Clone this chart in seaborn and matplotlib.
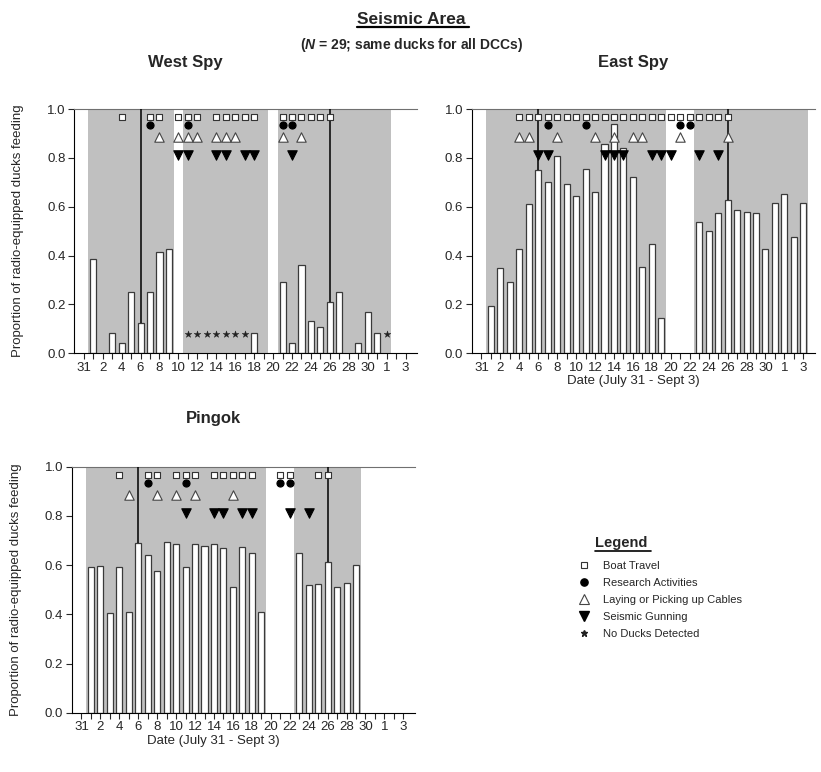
import numpy as np
import pandas as pd
import matplotlib
matplotlib.use('Agg')
import matplotlib.pyplot as plt
import seaborn as sns
from matplotlib.lines import Line2D
from matplotlib import font_manager

nan = np.nan

# Days from July 31 (index 0) to Sept 3 (index 34)
day_index = list(range(35))
tick_pos = [0, 2, 4, 6, 8, 10, 12, 14, 16, 18, 20, 22, 24, 26, 28, 30, 32, 34]
tick_text = ['31', '2', '4', '6', '8', '10', '12', '14', '16', '18', '20',
             '22', '24', '26', '28', '30', '1', '3']

# Proportion of radio-equipped ducks feeding (nan = no bar)
west_feed = [nan, 0.385, nan, 0.082, 0.041, 0.25, 0.126, 0.25, 0.416, 0.428,
             nan, nan, nan, nan, nan, nan, nan, nan, 0.082, nan,
             nan, 0.29, 0.041, 0.36, 0.131, 0.106, 0.209, 0.25, nan, 0.041,
             0.168, 0.082, nan, nan, nan]
east_feed = [nan, 0.192, 0.348, 0.291, 0.426, 0.61, 0.749, 0.703, 0.809, 0.692,
             0.645, 0.754, 0.662, 0.857, 0.939, 0.842, 0.723, 0.355, 0.446, 0.143,
             nan, nan, nan, 0.536, 0.5, 0.573, 0.629, 0.587, 0.577, 0.575,
             0.426, 0.614, 0.651, 0.475, 0.614]
pingok_feed = [nan, 0.593, 0.596, 0.404, 0.591, 0.411, 0.691, 0.64, 0.575, 0.692,
               0.687, 0.592, 0.686, 0.676, 0.684, 0.668, 0.509, 0.672, 0.648, 0.411,
               nan, nan, nan, 0.648, 0.519, 0.522, 0.614, 0.509, 0.526, 0.599,
               nan, nan, nan, nan, nan]

# disturbance events (day index)
west_boat = [4, 7, 8, 10, 11, 12, 14, 15, 16, 17, 18, 21, 22, 23, 24, 25, 26]
west_research = [7, 11, 21, 22]
west_cables = [8, 10, 11, 12, 14, 15, 16, 21, 23]
west_gunning = [10, 11, 14, 15, 17, 18, 22]
west_noducks = [11, 12, 13, 14, 15, 16, 17, 32]

east_boat = [4, 5, 6, 7, 8, 9, 10, 11, 12, 13, 14, 15, 16, 17, 18, 19, 20,
             21, 22, 23, 24, 25, 26]
east_research = [7, 11, 21, 22]
east_cables = [4, 5, 8, 12, 14, 16, 17, 21, 26]
east_gunning = [6, 7, 13, 14, 15, 18, 19, 20, 23, 25]

pingok_boat = [4, 7, 8, 10, 11, 12, 14, 15, 16, 17, 18, 21, 22, 25, 26]
pingok_research = [7, 11, 21, 22]
pingok_cables = [5, 8, 10, 12, 16]
pingok_gunning = [11, 14, 15, 17, 18, 22, 24]

# shaded periods (first day, last day)
west_periods = [(1, 9), (11, 19), (21, 32)]
east_periods = [(1, 19), (23, 34)]
pingok_periods = [(1, 19), (23, 29)]

line_days = [6, 26]

sns.set_style('ticks')
names = {f.name for f in font_manager.fontManager.ttflist}
narrow = 'Liberation Sans Narrow' if 'Liberation Sans Narrow' in names else 'Liberation Sans'
plt.rcParams['font.family'] = ['Liberation Sans', 'DejaVu Sans']
plt.rcParams['mathtext.fontset'] = 'custom'
plt.rcParams['mathtext.it'] = narrow + ':italic:bold'

fig = plt.figure(figsize=(8.21, 7.72), dpi=100)
W, H = 821.0, 772.0


def make_ax(left, top, right, bottom):
    return fig.add_axes([left / W, 1 - bottom / H, (right - left) / W, (bottom - top) / H])


def draw_panel(ax, feed, boat, research, cables, gunning, periods, noducks=()):
    for first, last in periods:
        ax.axvspan(first - 0.5, last + 0.5, color='#c0c0c0', lw=0, zorder=0)
    df = pd.DataFrame({'day': day_index, 'feed': feed}).dropna()
    sns.barplot(data=df, x='day', y='feed', native_scale=True, color='white',
                saturation=1, edgecolor='#3a3a3a', linewidth=0.9, width=0.64,
                errorbar=None, zorder=2, ax=ax)
    for d in line_days:
        ax.vlines(d, feed[d], 1.0, color='black', lw=1.1, zorder=3)
    rows = [(boat, 0.968, 's', 'white', '#333333', 15),
            (research, 0.934, 'o', 'black', 'black', 26),
            (cables, 0.886, '^', 'white', '#444444', 46),
            (gunning, 0.81, 'v', 'black', 'black', 46)]
    for days, level, m, fc, ec, s in rows:
        sns.scatterplot(x=days, y=[level] * len(days), marker=m, s=s, color=fc,
                        edgecolor=ec, linewidth=0.8, zorder=4, ax=ax)
    if len(noducks):
        ax.scatter(noducks, [0.08] * len(noducks), marker='*', s=26,
                   color='#222222', linewidths=0.3, zorder=4)
    ax.set_xlim(-1.03, 35.2)
    ax.set_ylim(0, 1.0)
    ax.set_xticks(tick_pos)
    ax.set_xticklabels(tick_text, fontsize=9.5)
    ax.set_xticks([p + 1 for p in tick_pos[:-1]], minor=True)
    ax.set_yticks([0, 0.2, 0.4, 0.6, 0.8, 1.0])
    ax.set_yticklabels(['0.0', '0.2', '0.4', '0.6', '0.8', '1.0'], fontsize=9.5)
    ax.tick_params(axis='both', which='both', direction='out', length=4, width=0.8, pad=2)
    ax.set_xlabel('')
    ax.set_ylabel('')
    ax.spines['right'].set_visible(False)
    ax.spines['top'].set_color('#707070')
    ax.spines['left'].set_color('black')
    ax.spines['bottom'].set_color('black')


ax_w = make_ax(74, 109, 417, 353.3)
draw_panel(ax_w, west_feed, west_boat, west_research, west_cables, west_gunning,
           west_periods, west_noducks)
ax_e = make_ax(471.7, 109, 814.7, 353.3)
draw_panel(ax_e, east_feed, east_boat, east_research, east_cables, east_gunning,
           east_periods)
ax_p = make_ax(71.7, 466.7, 414.7, 712.7)
draw_panel(ax_p, pingok_feed, pingok_boat, pingok_research, pingok_cables,
           pingok_gunning, pingok_periods)

for ax in (ax_w, ax_p):
    ax.set_ylabel('Proportion of radio-equipped ducks feeding', fontsize=9.5)
    ax.yaxis.set_label_coords(-50 / 343, 0.5)

fig.text(633 / W, 1 - 381 / H, 'Date (July 31 - Sept 3)', fontsize=9.5, ha='center', va='center')
fig.text(213 / W, 1 - 741 / H, 'Date (July 31 - Sept 3)', fontsize=9.5, ha='center', va='center')

# titles
t_main = fig.text(411 / W, 1 - 19 / H, 'Seismic Area', family=narrow, fontsize=12.5,
                  fontweight='bold', ha='center', va='center')
fig.text(411 / W, 1 - 45 / H, r'($\it{N}$ = 29; same ducks for all DCCs)', family=narrow,
         fontsize=10, fontweight='bold', ha='center', va='center')
fig.text(185 / W, 1 - 62 / H, 'West Spy', family=narrow, fontsize=12,
         fontweight='bold', ha='center', va='center')
fig.text(633 / W, 1 - 62 / H, 'East Spy', family=narrow, fontsize=12,
         fontweight='bold', ha='center', va='center')
fig.text(213 / W, 1 - 418 / H, 'Pingok', family=narrow, fontsize=12,
         fontweight='bold', ha='center', va='center')

# legend
t_leg = fig.text(621 / W, 1 - 543 / H, 'Legend', fontsize=10.5, fontweight='bold',
                 ha='center', va='center')
handles = [
    Line2D([], [], ls='none', marker='s', ms=4.2, mfc='white', mec='#333333', mew=0.8),
    Line2D([], [], ls='none', marker='o', ms=5.2, mfc='black', mec='black'),
    Line2D([], [], ls='none', marker='^', ms=6.8, mfc='white', mec='#444444', mew=0.8),
    Line2D([], [], ls='none', marker='v', ms=6.8, mfc='black', mec='black'),
    Line2D([], [], ls='none', marker='*', ms=5, mfc='#222222', mec='#222222'),
]
labels = ['Boat Travel', 'Research Activities', 'Laying or Picking up Cables',
          'Seismic Gunning', 'No Ducks Detected']
fig.legend(handles, labels, loc='upper left', bbox_to_anchor=(577 / W, 1 - 561 / H),
           frameon=False, fontsize=8, handlelength=1.2, handletextpad=1.1,
           labelspacing=0.62, borderaxespad=0, borderpad=0)

# underline the headings
fig.canvas.draw()
renderer = fig.canvas.get_renderer()
for t, lw in ((t_main, 1.6), (t_leg, 1.2)):
    bb = t.get_window_extent(renderer).transformed(fig.transFigure.inverted())
    fig.add_artist(Line2D([bb.x0, bb.x1 + 0.005], [bb.y0 - 0.001, bb.y0 - 0.001],
                          color='black', lw=lw, transform=fig.transFigure))

fig.savefig('out.png', dpi=100)
